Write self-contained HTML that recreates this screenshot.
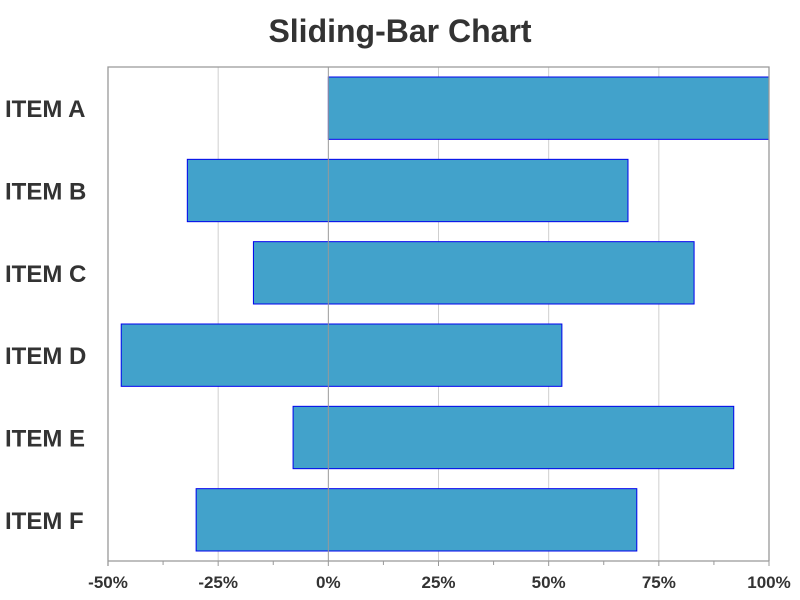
<!DOCTYPE html>
<html><head><meta charset="utf-8"><style>
body{margin:0;background:#fff;}
svg{display:block;font-family:"Liberation Sans",sans-serif;}
</style></head><body>
<svg width="800" height="600">
<text x="400" y="42" text-anchor="middle" font-size="32" font-weight="bold" fill="#333">Sliding-Bar Chart</text>
<g id="plot"></g>
</svg>
<script>
const categories=["ITEM A","ITEM B","ITEM C","ITEM D","ITEM E","ITEM F"];
const startValues=[0,-32,-17,-47,-8,-30];
const endValues=[100,68,83,53,92,70];
const tickValues=[-50,-25,0,25,50,75,100];
const tickLabels=["-50%","-25%","0%","25%","50%","75%","100%"];
const minorTicks=[-37.5,-12.5,12.5,37.5,62.5,87.5];
const NS="http://www.w3.org/2000/svg";
const L=108,R=769,T=67,B=561;
const xs=v=>L+(v+50)/150*(R-L);
const band=(B-T)/categories.length;
const g=document.getElementById('plot');
function mk(t,a){const e=document.createElementNS(NS,t);for(const k in a)e.setAttribute(k,a[k]);g.appendChild(e);return e;}
tickValues.forEach(v=>{if(v>-50&&v<100&&v!==0){
const l=mk('line',{x1:xs(v),x2:xs(v),y1:T,y2:B,stroke:'#cfcfcf','stroke-width':1});

}});
categories.forEach((c,i)=>{
const y=T+band*i+10;
const r=mk('rect',{x:xs(startValues[i]),y:y,width:xs(endValues[i])-xs(startValues[i]),height:band-20,fill:'#42a2cb',stroke:'#0000ee','stroke-width':1});


const t=mk('text',{x:5,y:T+band*(i+0.5)+9,'font-size':24,'font-weight':'bold',fill:'#333'});
t.textContent=c;


});
const z=mk('line',{x1:xs(0),x2:xs(0),y1:T,y2:B,stroke:'#999','stroke-width':1});


const f=mk('path',{d:`M${L},${B+5}V${T}H${R}V${B}M${L},${B}H${R}`,fill:'none',stroke:'#999','stroke-width':1.3});


tickValues.forEach((v,i)=>{
const tk=mk('line',{x1:xs(v),x2:xs(v),y1:B,y2:B+5,stroke:'#999'});


const t=mk('text',{x:xs(v),y:B+27,'text-anchor':'middle','font-size':17,'font-weight':'bold',fill:'#333'});
t.textContent=tickLabels[i];


});
minorTicks.forEach(v=>{
const tk=mk('line',{x1:xs(v),x2:xs(v),y1:B,y2:B+4,stroke:'#999'});


});
</script>
</body></html>
